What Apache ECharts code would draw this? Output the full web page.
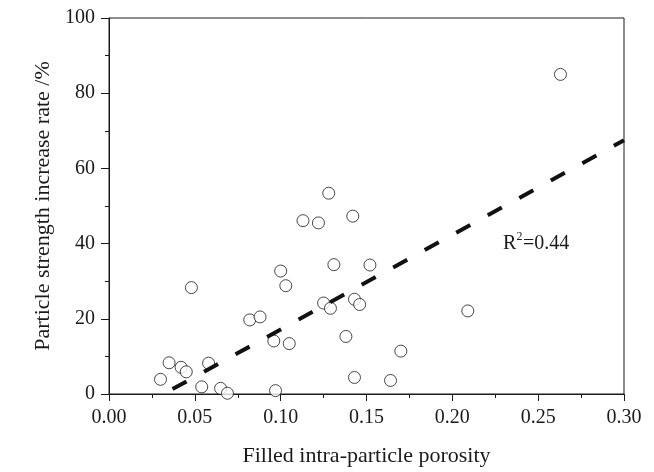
<!DOCTYPE html>
<html>
<head>
<meta charset="utf-8">
<title>porosity</title>
<script src="https://cdn.jsdelivr.net/npm/echarts@6/dist/echarts.min.js"></script>
<style>
	html,body{margin:0;padding:0;background:#fff;}
	#chart{width:654px;height:472px;}
</style>
</head>
<body>
<div id="chart"></div>
<script>
// 散点数据 (孔隙率, 强度增长率 %)
var porosity = [0.263,0.128,0.113,0.122,0.142,0.131,0.152,0.100,0.103,0.048,
	0.125,0.143,0.146,0.129,0.209,0.082,0.088,0.096,0.105,0.138,
	0.170,0.035,0.042,0.045,0.058,0.030,0.054,0.065,0.069,0.097,
	0.143,0.164];
var strengthRate = [85.0,53.4,46.1,45.5,47.3,34.4,34.3,32.7,28.8,28.3,
	24.2,25.2,23.8,22.8,22.1,19.7,20.5,14.1,13.4,15.3,
	11.4,8.3,7.1,5.9,8.2,3.9,1.9,1.5,0.2,0.9,
	4.4,3.6];
// 拟合线两端
var fitX = [0.037, 0.30];
var fitY = [1.3, 67.5];
var r2Label = '0.44';
var r2Pos = [0.2295, 40];

var fontFam = '"Liberation Serif","Times New Roman",serif';
var ink = '#1a1a1a';

function pairs(xs, ys){
	var out = [];
	for(var i=0;i<xs.length;i++){
		out.push([xs[i], ys[i]]);
	}
	return out;
}

var myChart = echarts.init(document.getElementById('chart'), null, {renderer:'canvas'});
var option = {
	animation: false,
	backgroundColor: '#fff',
	grid: {
		left: 109, right: 30, top: 18, bottom: 74,
		show: true, borderColor: ink, borderWidth: 1
	},
	xAxis: {
		type: 'value',
		min: 0, max: 0.3, interval: 0.05,
		name: 'Filled intra-particle porosity',
		nameLocation: 'middle',
		nameGap: 51,
		nameTextStyle: {fontFamily: fontFam, fontSize: 22, color: ink},
		axisLine: {lineStyle: {color: ink, width: 1}},
		axisTick: {length: 7, lineStyle: {color: ink}},
		minorTick: {show: true, splitNumber: 2, length: 4, lineStyle: {color: ink}},
		splitLine: {show: false},
		axisLabel: {
			fontFamily: fontFam, fontSize: 20, color: ink, margin: 14,
			formatter: function(v){ return v.toFixed(2); }
		}
	},
	yAxis: {
		type: 'value',
		min: 0, max: 100, interval: 20,
		name: 'Particle strength increase rate /%',
		nameLocation: 'middle',
		nameGap: 50,
		nameTextStyle: {fontFamily: fontFam, fontSize: 22, color: ink},
		axisLine: {show: true, lineStyle: {color: ink, width: 1}},
		axisTick: {show: true, length: 8, lineStyle: {color: ink}},
		minorTick: {show: true, splitNumber: 2, length: 4, lineStyle: {color: ink}},
		splitLine: {show: false},
		axisLabel: {fontFamily: fontFam, fontSize: 20, color: ink, margin: 14}
	},
	series: [{
		type: 'scatter',
		symbol: 'circle',
		symbolSize: 12,
		itemStyle: {color: '#fff', borderColor: ink, borderWidth: 1},
		z: 2,
		data: pairs(porosity, strengthRate)
	},{
		type: 'line',
		symbol: 'none',
		z: 3,
		lineStyle: {color: '#111', width: 4, type: [16, 20]},
		data: pairs(fitX, fitY)
	}]
};
myChart.setOption(option);

// R2 标注, 上标单独画
var pt = myChart.convertToPixel({gridIndex: 0}, r2Pos);
function txt(x, y, s, size){
	return {
		type: 'text', x: x, y: y, z: 10,
		style: {text: s, fontFamily: fontFam, fontSize: size, fill: ink, verticalAlign: 'middle'}
	};
}
myChart.setOption({
	graphic: [
		txt(pt[0], pt[1], 'R', 20),
		txt(pt[0] + 13.5, pt[1] - 7, '2', 12),
		txt(pt[0] + 20, pt[1], '=' + r2Label, 20)
	]
});
</script>
</body>
</html>
